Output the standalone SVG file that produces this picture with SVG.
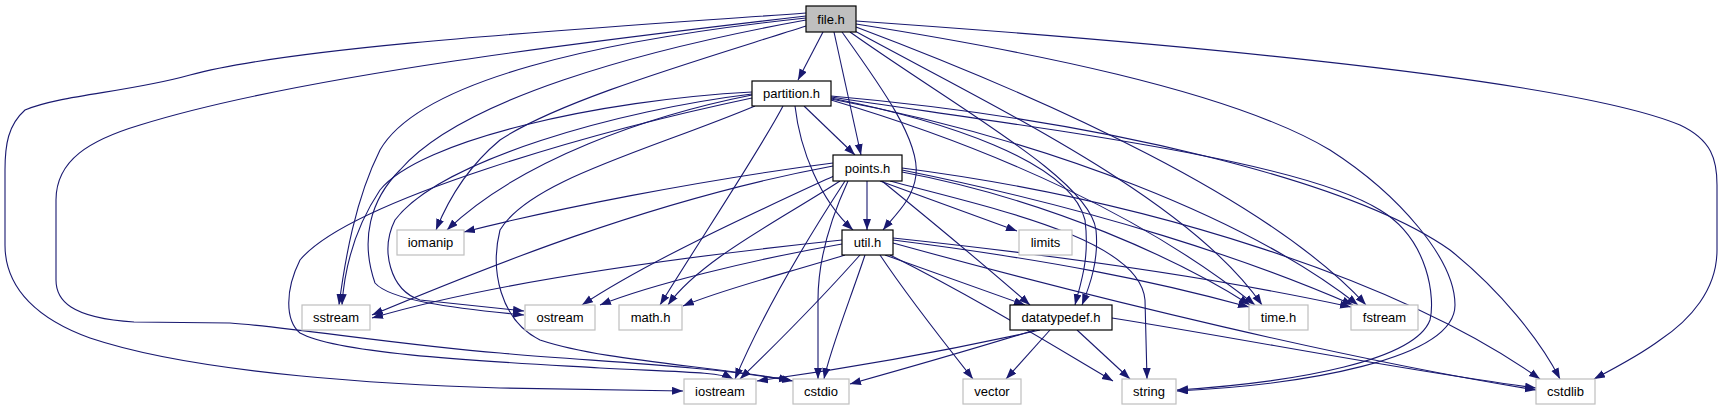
<svg xmlns="http://www.w3.org/2000/svg" width="1723" height="411" viewBox="0 0 1723 411">
<defs>
<marker id="a" markerWidth="12" markerHeight="9" refX="11" refY="4" orient="auto" markerUnits="userSpaceOnUse"><path d="M0,0 L11,4 L0,8 z" fill="#191970"/></marker>
<style>
.e path{fill:none;stroke:#191970;stroke-width:1.1;marker-end:url(#a)}
.n rect{fill:#fff;stroke:#000;stroke-width:1.2}
.x rect{fill:#fff;stroke:#bfbfbf;stroke-width:1.2}
.r rect{fill:#bfbfbf;stroke:#000;stroke-width:1.2}
text{font-family:"Liberation Sans",Arial,sans-serif;font-size:13px;text-anchor:middle;fill:#000}
</style>
</defs>
<rect width="1723" height="411" fill="#fff"/>
<g id="edges" class="e">
<path d="M823,32 L798,80"/>
<path d="M834,32 L861,155"/>
<path d="M842,32 C880,85 920,140 916,175 C913,200 895,215 883,230"/>
<path d="M850,32 C960,110 1090,180 1096,230 C1099,260 1090,285 1082,305"/>
<path d="M853,30 C1000,110 1190,200 1262,305"/>
<path d="M856,27 C1050,100 1270,200 1366,305"/>
<path d="M856,24 C1020,50 1230,90 1330,150 C1400,195 1455,260 1455,305 C1455,360 1300,385 1177,391"/>
<path d="M856,21 C1100,38 1560,75 1680,125 C1712,140 1717,160 1717,185 L1717,250 C1717,290 1690,320 1660,340 C1640,355 1615,368 1594,379"/>
<path d="M806,13 C600,28 300,45 190,75 C130,92 60,95 25,110 C8,125 5,145 5,170 L5,245 C5,290 40,320 90,338 C200,375 400,385 500,388 L683,391"/>
<path d="M806,16 C600,40 300,75 140,125 C90,140 56,160 56,200 L56,280 C56,300 70,318 134,322 L230,323 C290,327 400,345 500,353 C600,362 700,365 793,381"/>
<path d="M806,18 C600,40 420,80 380,150 C355,200 345,260 339,305"/>
<path d="M806,26 C700,60 560,100 500,140 C470,165 450,195 436,230"/>
<path d="M806,20 C640,50 460,100 400,170 C370,200 360,240 375,283 C390,300 450,308 524,315"/>
<path d="M804,106 L855,155"/>
<path d="M795,106 C800,150 820,200 853,230"/>
<path d="M783,106 C760,150 700,240 660,305"/>
<path d="M752,95 C650,115 520,160 447,230"/>
<path d="M752,92 C600,100 420,140 380,190 C360,220 345,260 342,305"/>
<path d="M752,94 C620,110 440,160 395,220 C380,250 390,290 420,300 L524,311"/>
<path d="M752,98 C600,130 350,200 300,260 C285,290 285,320 300,333 C340,355 500,362 600,368 C680,372 720,372 733,379"/>
<path d="M755,106 C650,150 530,180 500,230 C490,270 500,320 540,340 C600,360 700,365 790,380"/>
<path d="M831,98 C940,120 1070,160 1085,220 C1090,260 1080,285 1075,305"/>
<path d="M831,100 C1000,150 1150,220 1255,305"/>
<path d="M831,99 C1050,140 1250,220 1358,305"/>
<path d="M831,97 C1050,130 1300,160 1380,210 C1430,240 1435,300 1430,320 C1415,360 1300,382 1177,390"/>
<path d="M831,96 C1100,120 1350,180 1450,250 C1500,290 1540,340 1560,379"/>
<path d="M867,181 L867,230"/>
<path d="M882,181 C930,220 990,270 1030,305"/>
<path d="M833,163 C700,180 550,210 464,232"/>
<path d="M833,166 C650,200 480,270 372,315"/>
<path d="M836,175 C760,210 650,260 582,305"/>
<path d="M840,181 C780,220 700,260 668,305"/>
<path d="M845,181 C800,250 760,320 735,379"/>
<path d="M848,181 C830,220 818,260 818,300 L818,379"/>
<path d="M880,181 L1017,231"/>
<path d="M902,172 C1050,200 1180,260 1250,305"/>
<path d="M902,170 C1100,210 1250,260 1353,305"/>
<path d="M890,181 C1000,210 1140,240 1145,300 L1147,379"/>
<path d="M902,168 C1150,200 1400,280 1540,379"/>
<path d="M885,255 L1025,305"/>
<path d="M842,240 C700,255 500,280 372,318"/>
<path d="M842,244 C750,260 650,285 600,305"/>
<path d="M845,255 C780,275 720,290 683,306"/>
<path d="M860,255 C820,300 770,350 740,379"/>
<path d="M865,255 C850,300 830,350 824,379"/>
<path d="M880,255 C910,300 950,350 973,379"/>
<path d="M890,255 C980,300 1060,350 1113,381"/>
<path d="M893,240 C1050,260 1150,280 1249,307"/>
<path d="M893,238 C1100,260 1250,285 1351,307"/>
<path d="M893,243 C1100,300 1350,360 1536,390"/>
<path d="M1040,330 C950,350 850,368 757,381"/>
<path d="M1035,330 C970,350 900,370 850,384"/>
<path d="M1050,330 L1006,379"/>
<path d="M1077,330 L1130,379"/>
<path d="M1112,318 C1250,340 1400,370 1536,388"/>
</g>
<g id="file_h" class="r"><rect x="806" y="6" width="50" height="26"/><text x="831" y="24">file.h</text></g>
<g id="partition_h" class="n"><rect x="752" y="81" width="79" height="25"/><text x="791.5" y="98">partition.h</text></g>
<g id="points_h" class="n"><rect x="833" y="155" width="69" height="26"/><text x="867.5" y="172.5">points.h</text></g>
<g id="util_h" class="n"><rect x="842" y="230" width="51" height="25"/><text x="867.5" y="247">util.h</text></g>
<g id="limits" class="x"><rect x="1019" y="230" width="53" height="25"/><text x="1045.5" y="247">limits</text></g>
<g id="iomanip" class="x"><rect x="397" y="230" width="67" height="25"/><text x="430.5" y="247">iomanip</text></g>
<g id="sstream" class="x"><rect x="302" y="305" width="68" height="25"/><text x="336" y="322">sstream</text></g>
<g id="ostream" class="x"><rect x="525" y="305" width="70" height="25"/><text x="560" y="322">ostream</text></g>
<g id="math_h" class="x"><rect x="619" y="305" width="63" height="25"/><text x="650.5" y="322">math.h</text></g>
<g id="datatypedef_h" class="n"><rect x="1010" y="305" width="102" height="25"/><text x="1061" y="322">datatypedef.h</text></g>
<g id="time_h" class="x"><rect x="1249" y="305" width="59" height="25"/><text x="1278.5" y="322">time.h</text></g>
<g id="fstream" class="x"><rect x="1351" y="305" width="67" height="25"/><text x="1384.5" y="322">fstream</text></g>
<g id="iostream" class="x"><rect x="684" y="379" width="72" height="25"/><text x="720" y="396">iostream</text></g>
<g id="cstdio" class="x"><rect x="793" y="379" width="56" height="25"/><text x="821" y="396">cstdio</text></g>
<g id="vector" class="x"><rect x="963" y="379" width="58" height="25"/><text x="992" y="396">vector</text></g>
<g id="string" class="x"><rect x="1122" y="379" width="54" height="25"/><text x="1149" y="396">string</text></g>
<g id="cstdlib" class="x"><rect x="1536" y="379" width="59" height="25"/><text x="1565.5" y="396">cstdlib</text></g>
</svg>
